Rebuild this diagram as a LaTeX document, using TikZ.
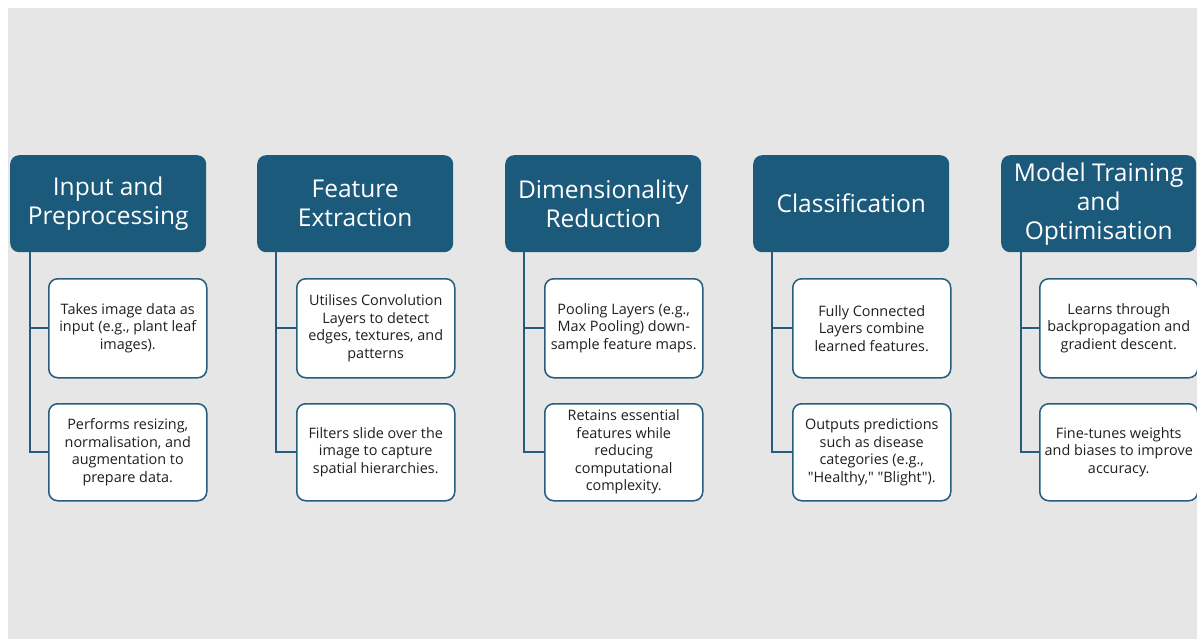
\documentclass[tikz,border=0pt]{standalone}
\usepackage{fontspec}
\setmainfont{Open Sans}
\definecolor{hdrblue}{HTML}{1C5A7B}
\definecolor{edgeblue}{HTML}{245E7C}
\definecolor{paper}{HTML}{E6E6E6}
\tikzset{
  hdr/.style={draw=none, fill=hdrblue, rounded corners=9pt, anchor=north west,
    minimum width=196pt, minimum height=97pt, inner sep=0pt, text=white, align=center,
    font=\fontsize{24.5pt}{29pt}\selectfont},
  item/.style={draw=edgeblue, line width=1.5pt, fill=white, rounded corners=9pt, anchor=north west,
    minimum width=158pt, inner sep=0pt, text=black!88, align=center,
    font=\fontsize{14.4pt}{17.5pt}\selectfont},
  conn/.style={draw=edgeblue, line width=2pt},
}
\begin{document}
\begin{tikzpicture}[x=1pt,y=-1pt]
\useasboundingbox (0,0) rectangle (1197,639);
\fill[white] (0,0) rectangle (1197,639);
\fill[paper] (8,8) rectangle (1197,639);

% column 1
\node[hdr] (h1) at (10,155) {Input and\\Preprocessing};
\node[item, minimum height=99pt] (a1) at (48,278) {Takes image data as\\input (e.g., plant leaf\\images).};
\node[item, minimum height=97pt] (b1) at (48,403) {Performs resizing,\\normalisation, and\\augmentation to\\prepare data.};
\coordinate (t1) at ([xshift=20pt]h1.south west);
\draw[conn] (t1) |- (b1.west);
\draw[conn] (a1.west) -- (a1.west -| t1);

% column 2
\node[hdr] (h2) at (257,155) {Feature\\Extraction};
\node[item, minimum height=99pt] (a2) at (296,278) {Utilises Convolution\\Layers to detect\\edges, textures, and\\patterns};
\node[item, minimum height=97pt] (b2) at (296,403) {Filters slide over the\\image to capture\\spatial hierarchies.};
\coordinate (t2) at ([xshift=19pt]h2.south west);
\draw[conn] (t2) |- (b2.west);
\draw[conn] (a2.west) -- (a2.west -| t2);

% column 3
\node[hdr] (h3) at (505,155) {Dimensionality\\Reduction};
\node[item, minimum height=99pt] (a3) at (544,278) {Pooling Layers (e.g.,\\Max Pooling) down-\\sample feature maps.};
\node[item, minimum height=97pt] (b3) at (544,403) {Retains essential\\features while\\reducing\\computational\\complexity.};
\coordinate (t3) at ([xshift=19pt]h3.south west);
\draw[conn] (t3) |- (b3.west);
\draw[conn] (a3.west) -- (a3.west -| t3);

% column 4
\node[hdr] (h4) at (753,155) {Classification};
\node[item, minimum height=99pt] (a4) at (792,278) {Fully Connected\\Layers combine\\learned features.};
\node[item, minimum height=97pt] (b4) at (792,403) {Outputs predictions\\such as disease\\categories (e.g.,\\\textquotedbl Healthy,\textquotedbl{} \textquotedbl Blight\textquotedbl).};
\coordinate (t4) at ([xshift=19pt]h4.south west);
\draw[conn] (t4) |- (b4.west);
\draw[conn] (a4.west) -- (a4.west -| t4);

% column 5
\node[hdr, minimum width=195pt] (h5) at (1001,155) {Model Training\\and\\Optimisation};
\node[item, minimum height=99pt] (a5) at (1039,278) {Learns through\\backpropagation and\\gradient descent.};
\node[item, minimum height=97pt] (b5) at (1039,403) {Fine-tunes weights\\and biases to improve\\accuracy.};
\coordinate (t5) at ([xshift=20pt]h5.south west);
\draw[conn] (t5) |- (b5.west);
\draw[conn] (a5.west) -- (a5.west -| t5);
\end{tikzpicture}
\end{document}
